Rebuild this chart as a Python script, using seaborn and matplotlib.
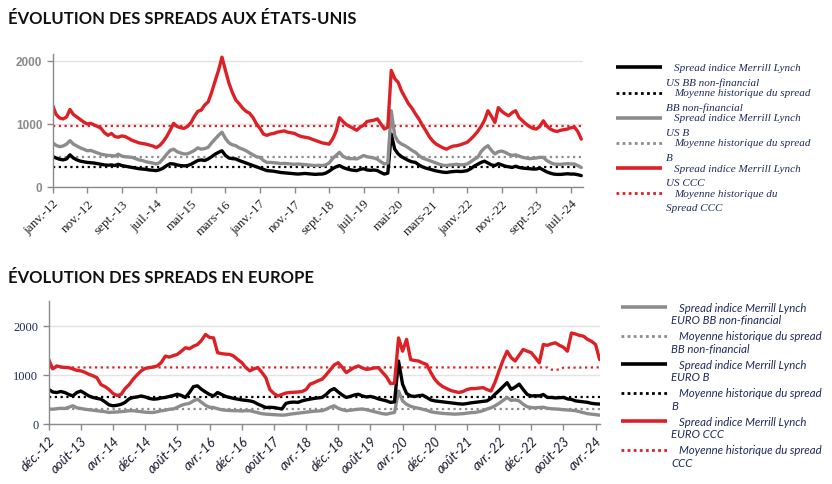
import seaborn as sns
import matplotlib
matplotlib.use("Agg")
import matplotlib.pyplot as plt
from matplotlib.lines import Line2D
import numpy as np

sns.set_style("white")

# --- données (valeurs mensuelles) ---
# Etats-Unis : janv. 2012 -> oct. 2024
us_ccc = [1290, 1150, 1095, 1080, 1110, 1230, 1150, 1110, 1070, 1030,
          1000, 1010, 985, 960, 930, 860, 820, 850, 800, 790,
          810, 800, 770, 740, 720, 700, 690, 680, 665, 650,
          625, 660, 720, 800, 900, 1010, 960, 940, 930, 960,
          1020, 1120, 1200, 1220, 1300, 1350, 1500, 1680, 1850, 2060,
          1850, 1650, 1500, 1380, 1320, 1250, 1200, 1170, 1100, 1000,
          930, 840, 820, 840, 850, 870, 880, 890, 870, 860,
          850, 820, 800, 790, 780, 760, 740, 720, 700, 690,
          680, 760, 880, 1100, 1040, 990, 960, 930, 900, 950,
          980, 1040, 1050, 1060, 1080, 1000, 920, 950, 1850, 1720,
          1660, 1520, 1420, 1320, 1250, 1160, 1080, 980, 895, 800,
          730, 680, 650, 620, 600, 630, 650, 655, 670, 690,
          710, 760, 815, 880, 960, 1060, 1210, 1120, 1025, 1260,
          1200, 1160, 1130, 1180, 1210, 1100, 1050, 1000, 960, 930,
          920, 960, 1050, 970, 920, 895, 880, 900, 910, 920,
          940, 950, 880, 760]
us_b = [700, 660, 640, 650, 680, 735, 680, 650, 620, 600,
        575, 580, 560, 540, 520, 510, 500, 500, 490, 520,
        490, 480, 475, 470, 450, 430, 420, 400, 390, 380,
        365, 390, 450, 520, 580, 600, 560, 540, 525, 525,
        550, 580, 620, 600, 610, 630, 700, 760, 820, 870,
        770, 700, 670, 655, 620, 600, 575, 540, 510, 480,
        470, 420, 390, 390, 385, 380, 370, 375, 370, 365,
        360, 365, 360, 355, 350, 345, 340, 345, 340, 350,
        380, 450, 500, 550, 490, 460, 450, 450, 445, 470,
        500, 480, 470, 460, 440, 400, 365, 380, 1210, 815,
        720, 680, 655, 620, 580, 550, 500, 460, 440, 420,
        400, 380, 360, 345, 340, 350, 355, 360, 350, 355,
        365, 400, 440, 470, 560, 620, 655, 580, 525, 560,
        570, 550, 520, 500, 510, 490, 470, 460, 450, 455,
        460, 470, 470, 420, 390, 365, 360, 360, 365, 370,
        365, 365, 340, 310]
us_bb = [485, 460, 440, 430, 445, 510, 460, 430, 410, 400,
         390, 385, 380, 370, 360, 350, 345, 350, 340, 360,
         340, 330, 320, 310, 300, 290, 285, 280, 270, 265,
         260, 275, 300, 340, 370, 365, 350, 340, 335, 340,
         360, 390, 420, 430, 420, 445, 480, 520, 550, 575,
         500, 460, 450, 445, 420, 400, 380, 360, 340, 320,
         300, 280, 260, 255, 250, 240, 230, 225, 220, 215,
         210, 205, 210, 215, 210, 205, 200, 205, 205, 220,
         250, 290, 320, 340, 310, 290, 275, 265, 260, 280,
         290, 270, 265, 270, 260, 230, 205, 220, 840, 600,
         525, 480, 450, 420, 400, 390, 350, 320, 300, 285,
         270, 255, 245, 235, 230, 240, 245, 250, 245, 250,
         260, 290, 330, 360, 390, 410, 380, 350, 340, 370,
         350, 330, 320, 310, 330, 310, 300, 295, 290, 285,
         285, 300, 270, 240, 220, 205, 200, 200, 205, 210,
         205, 205, 195, 180]
us_mean_ccc = 965
us_mean_b = 470
us_mean_bb = 313
us_ticklabels = ["janv.-12", "nov.-12", "sept.-13", "juil.-14", "mai-15", "mars-16",
                 "janv.-17", "nov.-17", "sept.-18", "juil.-19", "mai-20", "mars-21",
                 "janv.-22", "nov.-22", "sept.-23", "juil.-24"]

# Europe : déc. 2012 -> mai 2024
eu_ccc = [1310, 1120, 1180, 1160, 1150, 1145, 1120, 1090, 1080, 1050,
          1010, 980, 940, 800, 760, 700, 620, 580, 600, 720,
          800, 910, 1000, 1080, 1130, 1145, 1160, 1180, 1250, 1380,
          1360, 1390, 1415, 1480, 1550, 1530, 1580, 1615, 1700, 1820,
          1760, 1750, 1450, 1430, 1420, 1415, 1380, 1310, 1250, 1150,
          1080, 1120, 1145, 1050, 940, 700, 620, 570, 600, 630,
          640, 645, 650, 660, 700, 810, 840, 880, 910, 1000,
          1100, 1200, 1245, 1150, 1045, 1100, 1150, 1180, 1140, 1110,
          1120, 1140, 1145, 1050, 960, 820, 830, 1750, 1480, 1720,
          1310, 1290, 1280, 1240, 1210, 1050, 910, 820, 760, 720,
          680, 660, 640, 660, 700, 720, 720, 730, 740, 700,
          670, 850, 1080, 1300, 1480, 1350, 1280, 1400, 1515, 1480,
          1450, 1350, 1245, 1615, 1600, 1630, 1650, 1600, 1560, 1480,
          1850, 1830, 1800, 1785, 1720, 1680, 1615, 1310]
eu_b = [705, 650, 640, 660, 640, 600, 570, 640, 670, 620,
        570, 540, 520, 505, 450, 390, 370, 380, 400, 440,
        510, 540, 550, 570, 550, 520, 505, 510, 530, 540,
        560, 580, 605, 580, 540, 640, 760, 775, 705, 650,
        600, 570, 640, 600, 560, 540, 520, 505, 490, 480,
        470, 450, 405, 370, 335, 340, 335, 320, 305, 420,
        440, 445, 440, 470, 490, 505, 520, 530, 540, 600,
        680, 720, 650, 590, 540, 560, 590, 605, 570, 550,
        560, 540, 510, 490, 470, 440, 450, 1280, 810, 620,
        570, 560, 575, 585, 540, 490, 470, 460, 450, 440,
        430, 420, 410, 405, 415, 430, 440, 450, 460, 470,
        520, 605, 680, 760, 840, 705, 750, 810, 700, 600,
        570, 575, 570, 600, 540, 540, 530, 535, 540, 510,
        500, 470, 460, 450, 440, 420, 410, 405]
eu_bb = [305, 300, 310, 320, 315, 340, 370, 330, 315, 300,
         290, 280, 270, 260, 250, 235, 240, 245, 250, 260,
         270, 270, 260, 250, 240, 235, 235, 250, 270, 280,
         300, 305, 340, 380, 405, 420, 470, 505, 440, 380,
         340, 335, 310, 290, 280, 275, 270, 270, 265, 270,
         270, 250, 230, 210, 200, 195, 190, 185, 180, 185,
         200, 210, 220, 230, 240, 250, 260, 265, 270, 300,
         340, 370, 320, 290, 270, 280, 290, 300, 305, 290,
         270, 250, 230, 210, 200, 220, 235, 670, 470, 400,
         360, 335, 320, 300, 280, 250, 235, 225, 215, 210,
         205, 200, 205, 210, 220, 230, 235, 250, 270, 305,
         330, 370, 420, 480, 540, 480, 490, 470, 400, 350,
         335, 330, 335, 340, 320, 310, 305, 300, 290, 285,
         280, 270, 250, 230, 210, 200, 190, 180]
eu_mean_ccc_month = [0, 124, 125, 127, 128, 137]
eu_mean_ccc = [1150, 1150, 1105, 1105, 1145, 1150]
eu_mean_b = 550
eu_mean_bb = 300
eu_ticklabels = ["déc.-12", "août-13", "avr.-14", "déc.-14", "août-15", "avr.-16",
                 "déc.-16", "août-17", "avr.-18", "déc.-18", "août-19", "avr.-20",
                 "déc.-20", "août-21", "avr.-22", "déc.-22", "août-23", "avr.-24"]

RED = "#dc2026"
GRAY = "#8c8c8c"
BLACK = "#000000"
NAVY = "#1f2a5c"
W, H = 832, 485


def solid(ax, values, color):
    sns.lineplot(x=np.arange(len(values)), y=values, color=color, lw=2.4, ax=ax)


def dotted(ax, months, values, color):
    sns.lineplot(x=months, y=values, color=color, lw=1.6, ax=ax, dashes=False)
    ax.lines[-1].set_dashes((1, 1.6))


def style_axes(ax, ymax, xmax):
    ax.set_xlim(0, xmax)
    ax.set_ylim(0, ymax)
    for s in ["top", "right"]:
        ax.spines[s].set_visible(False)
    for s in ["left", "bottom"]:
        ax.spines[s].set_color("#8a8a8a")
        ax.spines[s].set_linewidth(1.0)
    ax.yaxis.grid(True, color="#e3e3e3", lw=1.0)
    ax.set_axisbelow(True)
    ax.tick_params(axis="both", which="both", direction="out", length=4,
                   width=1, color="#8a8a8a", left=True, bottom=True)
    ax.set_xlabel("")
    ax.set_ylabel("")


def legend(entries, xl0, xl1, xt1, xt2, y0, step, dy2, font):
    for i, (color, ls, l1, l2) in enumerate(entries):
        y = 1 - (y0 + i * step) / H
        if ls == "-":
            ln = Line2D([xl0 / W, xl1 / W], [y, y], color=color, lw=2.6,
                        transform=fig.transFigure, solid_capstyle="butt")
        else:
            ln = Line2D([xl0 / W, xl1 / W], [y, y], color=color, lw=2.0,
                        dashes=(1, 1.2), transform=fig.transFigure)
        fig.add_artist(ln)
        fig.text(xt1 / W, y, l1, va="center", ha="left", color=NAVY, **font)
        fig.text(xt2 / W, 1 - (y0 + i * step + dy2) / H, l2, va="center",
                 ha="left", color=NAVY, **font)


fig = plt.figure(figsize=(W / 100, H / 100), dpi=100)

# ---------------- Etats-Unis ----------------
ax1 = fig.add_axes([52.7 / W, 1 - 188 / H, (583 - 52.7) / W, (188 - 55) / H])
n_us = len(us_ccc)
dotted(ax1, [0, n_us - 1], [us_mean_bb, us_mean_bb], BLACK)
dotted(ax1, [0, n_us - 1], [us_mean_b, us_mean_b], GRAY)
dotted(ax1, [0, n_us - 1], [us_mean_ccc, us_mean_ccc], RED)
solid(ax1, us_bb, BLACK)
solid(ax1, us_b, GRAY)
solid(ax1, us_ccc, RED)
style_axes(ax1, 2110, n_us - 0.5)
ax1.set_yticks([0, 1000, 2000])
ax1.set_yticklabels(["0", "1000", "2000"], family="Liberation Sans",
                    fontweight="bold", fontsize=8.5, color="#8a8a8a")
ax1.set_xticks(np.arange(0, 10 * len(us_ticklabels), 10))
ax1.set_xticklabels(us_ticklabels, rotation=45, ha="right", rotation_mode="anchor",
                    family="Liberation Serif", fontsize=9.5, color="#222222")

fig.text(8 / W, 1 - 19 / H, "ÉVOLUTION DES SPREADS AUX ÉTATS-UNIS", family="Lato",
         fontweight="bold", fontsize=12, va="center", ha="left", color="#111111")

legend([(BLACK, "-", "Spread indice Merrill Lynch", "US BB non-financial"),
        (BLACK, ":", "Moyenne historique du spread", "BB non-financial"),
        (GRAY, "-", "Spread indice Merrill Lynch", "US B"),
        (GRAY, ":", "Moyenne historique du spread", "B"),
        (RED, "-", "Spread indice Merrill Lynch", "US CCC"),
        (RED, ":", "Moyenne historique du", "Spread CCC")],
       616, 662, 674, 666, 68.3, 25.2, 14.4,
       dict(family="Liberation Serif", style="italic", fontsize=8))

# ---------------- Europe ----------------
ax2 = fig.add_axes([48.7 / W, 1 - 425 / H, (600 - 48.7) / W, (425 - 302) / H])
n_eu = len(eu_ccc)
dotted(ax2, [0, n_eu - 1], [eu_mean_bb, eu_mean_bb], GRAY)
dotted(ax2, [0, n_eu - 1], [eu_mean_b, eu_mean_b], BLACK)
dotted(ax2, eu_mean_ccc_month, eu_mean_ccc, RED)
solid(ax2, eu_bb, GRAY)
solid(ax2, eu_b, BLACK)
solid(ax2, eu_ccc, RED)
style_axes(ax2, 2500, n_eu - 0.9)
ax2.set_yticks([0, 1000, 2000])
ax2.set_yticklabels(["0", "1000", "2000"], family="Liberation Serif",
                    fontsize=9, color=NAVY)
ax2.set_xticks(np.arange(0, 8 * len(eu_ticklabels), 8))
ax2.set_xticklabels(eu_ticklabels, rotation=45, ha="right", rotation_mode="anchor",
                    family="Lato", style="italic", fontsize=9.5, color="#1a1a2e")

fig.text(8 / W, 1 - 278 / H, "ÉVOLUTION DES SPREADS EN EUROPE", family="Lato",
         fontweight="bold", fontsize=12, va="center", ha="left", color="#111111")

legend([(GRAY, "-", "Spread indice Merrill Lynch", "EURO BB non-financial"),
        (GRAY, ":", "Moyenne historique du spread", "BB non-financial"),
        (BLACK, "-", "Spread indice Merrill Lynch", "EURO B"),
        (BLACK, ":", "Moyenne historique du spread", "B"),
        (RED, "-", "Spread indice Merrill Lynch", "EURO CCC"),
        (RED, ":", "Moyenne historique du spread", "CCC")],
       621, 667, 679, 671, 308.3, 28.5, 12.7,
       dict(family="Lato", style="italic", fontsize=8.2))

fig.savefig("out.png", dpi=100, facecolor="white")
